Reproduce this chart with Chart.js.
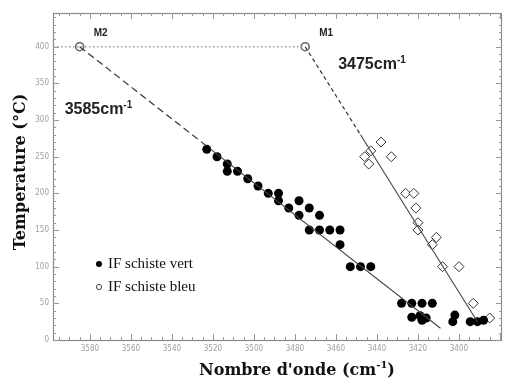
<!DOCTYPE html>
<html><head><meta charset="utf-8">
<script src="https://cdn.jsdelivr.net/npm/chart.js@4/dist/chart.umd.min.js"></script>
<style>html,body{margin:0;padding:0;background:#fff;overflow:hidden}</style>
</head><body>
<canvas id="c" width="508" height="383"></canvas>
<script>
// ---- data ----
const xTickLabels = [3580,3560,3540,3520,3500,3480,3460,3440,3420,3400];
const yTickLabels = [0,50,100,150,200,250,300,350,400];

const vertX = [3523,3518,3513,3513,3508,3503,3498,3493,3488,3488,3483,3478,3478,3473,3468,3473,3468,3463,3458,3458,3453,3448,3443,3428,3423,3418,3413,3423,3419,3418,3416,3403,3402,3394.5,3391,3388];
const vertY = [260,250,240,230,230,220,210,200,200,190,180,190,170,180,170,150,150,150,150,130,100,100,100,50,50,50,50,31,33,27,30,25,34,25,25,27];

const bleuX = [3438,3443,3446,3444,3433,3426,3422,3421,3420,3420,3411,3413,3408,3400,3393,3385];
const bleuY = [270,258,250,240,250,200,200,180,160,150,140,130,100,100,50,30];

const refLabels = ["M2","M1"];
const refX = [3585,3475];
const refY = [400,400];

const dottedX = [3598,3475];
const dottedY = [400,400];

const vertDashX = [3585,3521]; const vertDashY = [400,260];
const vertFitX  = [3521,3409]; const vertFitY  = [260,16];
const bleuDashX = [3475,3448]; const bleuDashY = [400,280];
const bleuFitX  = [3448,3391]; const bleuFitY  = [280,25];

const seriesNames = ["IF schiste vert","IF schiste bleu"];
const xTitle = ["Nombre d'onde (cm", "-1", ")"];
const yTitle = "Temperature (°C)";

const pts = (xs, ys) => xs.map((x, i) => ({x, y: ys[i]}));

const overlay = {
  id: 'overlay',
  afterDraw(chart) {
    const ctx = chart.ctx, a = chart.chartArea;
    const xs = chart.scales.x, ys = chart.scales.y;
    ctx.save();
    // frame
    ctx.strokeStyle = '#8a8a8a';
    ctx.lineWidth = 1.2;
    ctx.strokeRect(a.left + 0.5, a.top + 0.5, a.right - a.left - 1, a.bottom - a.top);
    // ticks (inside)
    ctx.strokeStyle = '#999';
    ctx.lineWidth = 1;
    ctx.beginPath();
    for (let v = 0; v <= 440; v += 10) {
      const p = Math.round(ys.getPixelForValue(v)) + 0.5;
      const L = (v % 50 === 0) ? 6 : 3;
      ctx.moveTo(a.left, p); ctx.lineTo(a.left + L, p);
      ctx.moveTo(a.right, p); ctx.lineTo(a.right - L, p);
    }
    for (let v = 3380; v <= 3595; v += 5) {
      const p = Math.round(xs.getPixelForValue(v)) + 0.5;
      const L = (v % 20 === 0) ? 6 : 3;
      ctx.moveTo(p, a.bottom); ctx.lineTo(p, a.bottom - L);
      ctx.moveTo(p, a.top); ctx.lineTo(p, a.top + L);
    }
    ctx.stroke();

    // M labels
    ctx.fillStyle = '#222';
    ctx.font = 'bold 10px "Liberation Sans", Arial, sans-serif';
    ctx.textAlign = 'center';
    ctx.textBaseline = 'alphabetic';
    refLabels.forEach((t, i) => {
      ctx.fillText(t, xs.getPixelForValue(refX[i]) + 21, ys.getPixelForValue(refY[i]) - 11);
    });

    // wavenumber annotations
    const sup = (txt, x, y) => {
      ctx.textAlign = 'left';
      ctx.font = 'bold 16px "Liberation Sans", Arial, sans-serif';
      ctx.fillText(txt, x, y);
      const w = ctx.measureText(txt).width;
      ctx.font = 'bold 10px "Liberation Sans", Arial, sans-serif';
      ctx.fillText('-1', x + w, y - 6);
    };
    sup(refX[1] + 'cm', xs.getPixelForValue(refX[1]) + 33, ys.getPixelForValue(refY[1]) + 22);
    sup(refX[0] + 'cm', xs.getPixelForValue(refX[0]) - 15, ys.getPixelForValue(refY[0]) + 67);

    // legend
    ctx.textBaseline = 'middle';
    ctx.textAlign = 'left';
    ctx.font = '15px "Liberation Serif", "Times New Roman", serif';
    const lx = 99, ly1 = 264, ly2 = 287;
    ctx.fillStyle = '#000';
    ctx.beginPath(); ctx.arc(lx, ly1, 3, 0, Math.PI * 2); ctx.fill();
    ctx.strokeStyle = '#444'; ctx.lineWidth = 1;
    ctx.beginPath(); ctx.arc(lx, ly2, 2.6, 0, Math.PI * 2); ctx.stroke();
    ctx.fillStyle = '#111';
    ctx.fillText(seriesNames[0], lx + 9, ly1);
    ctx.fillText(seriesNames[1], lx + 9, ly2);

    // x title
    ctx.textBaseline = 'alphabetic';
    const big = 'bold 16px "DejaVu Serif", serif';
    const small = 'bold 10px "DejaVu Serif", serif';
    ctx.font = big;
    const w0 = ctx.measureText(xTitle[0]).width;
    ctx.font = small; const w1 = ctx.measureText(xTitle[1]).width;
    ctx.font = big; const w2 = ctx.measureText(xTitle[2]).width;
    const x0 = 297 - (w0 + w1 + w2) / 2;
    const by = 375;
    ctx.font = big; ctx.fillText(xTitle[0], x0, by);
    ctx.font = small; ctx.fillText(xTitle[1], x0 + w0, by - 7);
    ctx.font = big; ctx.fillText(xTitle[2], x0 + w0 + w1, by);

    // y title
    ctx.translate(25, 172);
    ctx.rotate(-Math.PI / 2);
    ctx.textAlign = 'center';
    ctx.font = big;
    ctx.fillText(yTitle, 0, 0);
    ctx.restore();
  }
};

const chart = new Chart(document.getElementById('c'), {
  type: 'scatter',
  data: {
    datasets: [
      { data: pts(dottedX, dottedY), showLine: true, borderColor: '#9a9a9a', borderWidth: 1.3, borderDash: [1.5, 2.5], pointRadius: 0 },
      { data: pts(vertDashX, vertDashY), showLine: true, borderColor: '#333', borderWidth: 1.2, borderDash: [7, 4], pointRadius: 0 },
      { data: pts(vertFitX, vertFitY), showLine: true, borderColor: '#444', borderWidth: 1.1, pointRadius: 0 },
      { data: pts(bleuDashX, bleuDashY), showLine: true, borderColor: '#333', borderWidth: 1.2, borderDash: [4, 3], pointRadius: 0 },
      { data: pts(bleuFitX, bleuFitY), showLine: true, borderColor: '#444', borderWidth: 1.1, pointRadius: 0 },
      { label: seriesNames[0], data: pts(vertX, vertY), pointRadius: 4.5, pointBackgroundColor: '#000', pointBorderColor: '#000', pointBorderWidth: 0 },
      { label: seriesNames[1], data: pts(bleuX, bleuY), pointStyle: 'rectRot', pointRadius: 5, pointBackgroundColor: '#fff', pointBorderColor: '#333', pointBorderWidth: 1 },
      { data: pts(refX, refY), pointRadius: 4, pointBackgroundColor: '#fff', pointBorderColor: '#666', pointBorderWidth: 1.6 }
    ]
  },
  options: {
    responsive: false,
    animation: false,
    events: [],
    layout: { padding: { top: 13, right: 1, left: 0, bottom: 0 } },
    plugins: { legend: { display: false }, tooltip: { enabled: false } },
    scales: {
      x: {
        type: 'linear', reverse: true, min: 3379, max: 3598,
        grid: { display: false, drawTicks: false },
        border: { display: false },
        afterBuildTicks: s => { s.ticks = xTickLabels.map(v => ({ value: v })); },
        afterFit: s => { s.height = 43; },
        ticks: { padding: 4, color: '#a0a0a0', font: { size: 8, family: '"Liberation Sans Narrow", "DejaVu Sans Condensed", "Liberation Sans", sans-serif' }, maxRotation: 0, autoSkip: false, callback: v => String(v) }
      },
      y: {
        type: 'linear', min: 0, max: 446,
        grid: { display: false, drawTicks: false },
        border: { display: false },
        afterBuildTicks: s => { s.ticks = yTickLabels.map(v => ({ value: v })); },
        afterFit: s => { s.width = 53; },
        ticks: { padding: 4, color: '#a0a0a0', font: { size: 8, family: '"Liberation Sans Narrow", "DejaVu Sans Condensed", "Liberation Sans", sans-serif' }, autoSkip: false, callback: v => String(v) }
      }
    }
  },
  plugins: [overlay]
});
</script>
</body></html>
